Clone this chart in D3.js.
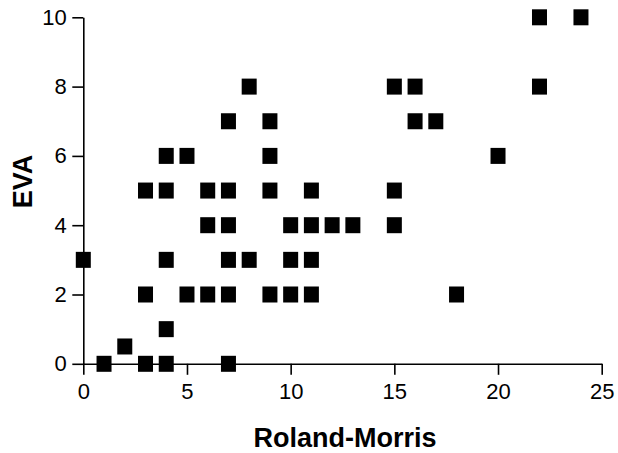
<!DOCTYPE html>
<html>
<head>
<meta charset="utf-8">
<script src="https://cdn.jsdelivr.net/npm/d3@7"></script>
<style>
  body { margin: 0; background: #fff; }
  text { font-family: "Liberation Sans", Arial, sans-serif; }
</style>
</head>
<body>
<div id="chart"></div>
<script>
// Roland-Morris score vs EVA, one entry per patient
const rolandMorris = [22, 24,
  8, 15, 16, 22,
  7, 9, 16, 17,
  4, 5, 9, 20,
  3, 4, 6, 7, 9, 11, 15,
  6, 7, 10, 11, 12, 13, 15,
  0, 4, 7, 8, 10, 11,
  3, 5, 6, 7, 9, 10, 11, 18,
  4,
  2,
  1, 3, 4, 7];
const eva = [10, 10,
  8, 8, 8, 8,
  7, 7, 7, 7,
  6, 6, 6, 6,
  5, 5, 5, 5, 5, 5, 5,
  4, 4, 4, 4, 4, 4, 4,
  3, 3, 3, 3, 3, 3,
  2, 2, 2, 2, 2, 2, 2, 2,
  1,
  0.5,
  0, 0, 0, 0];
const xTicks = [0, 5, 10, 15, 20, 25];
const yTicks = [0, 2, 4, 6, 8, 10];

const data = rolandMorris.map((d, i) => ({ x: d, y: eva[i] }));

const W = 618, H = 453;
const margin = {top: 17.3, right: 16.3, bottom: 89.2, left: 83.3},
    width = W - margin.left - margin.right,
    height = H - margin.top - margin.bottom;

const svg = d3.select("#chart")
  .append("svg")
    .attr("width", W)
    .attr("height", H)
  .append("g")
    .attr("transform", `translate(${margin.left}, ${margin.top})`);

const x = d3.scaleLinear().domain([0, 25]).range([0, width]);
const y = d3.scaleLinear().domain([0, 10]).range([height, 0]);

const xAxis = svg.append("g")
  .attr("transform", `translate(0, ${height})`)
  .call(d3.axisBottom(x).tickValues(xTicks).tickSize(11).tickSizeOuter(0).tickPadding(9));

const yAxis = svg.append("g")
  .call(d3.axisLeft(y).tickValues(yTicks).tickSize(11).tickSizeOuter(0).tickPadding(5.5));

[xAxis, yAxis].forEach(a => {
  a.selectAll("path, line").attr("stroke", "#000").attr("stroke-width", 1.6);
  a.selectAll("text")
    .attr("fill", "#000")
    .style("font-size", "22px")
    .style("font-family", "'Liberation Sans', Arial, sans-serif");
});

// markers
svg.append("g")
  .selectAll("rect")
  .data(data)
  .join("rect")
    .attr("x", d => x(d.x) - 7.5)
    .attr("y", d => y(d.y) - 8)
    .attr("width", 15)
    .attr("height", 16)
    .attr("fill", "#000");

// axis titles
svg.append("text")
  .attr("x", width / 2 + 2.5)
  .attr("y", height + 83)
  .attr("text-anchor", "middle")
  .style("font-size", "27px")
  .style("font-weight", "bold")
  .text("Roland-Morris");

svg.append("text")
  .attr("transform", `translate(${-51}, ${height / 2 - 9}) rotate(-90)`)
  .attr("text-anchor", "middle")
  .style("font-size", "27px")
  .style("font-weight", "bold")
  .text("EVA");
</script>
</body>
</html>
